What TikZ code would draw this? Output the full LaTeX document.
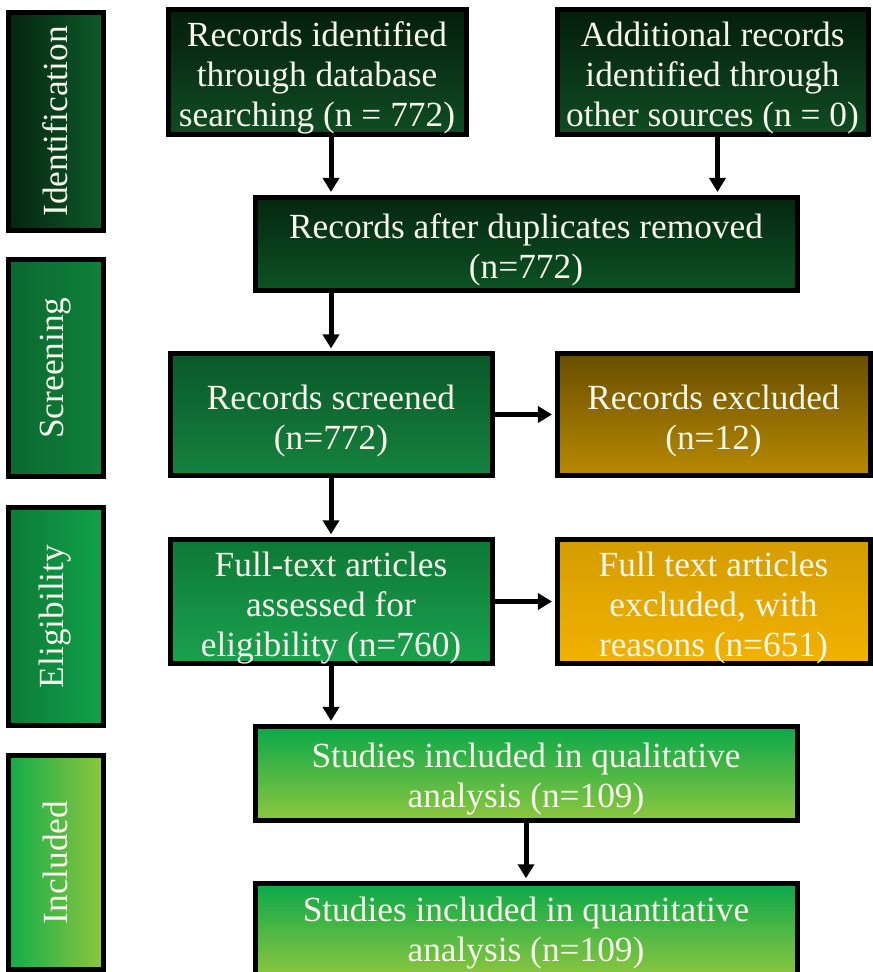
\documentclass[tikz,border=0pt]{standalone}
\usepackage{fontspec}
\setmainfont{Liberation Serif}
\usetikzlibrary{arrows.meta,calc}
\definecolor{txt}{HTML}{F6F6EA}
\newcommand\tstrut{\rule{0pt}{27.5pt}}
\newcommand\lstrut{\rule{0pt}{23pt}}
\begin{document}
\begin{tikzpicture}[x=0.75pt,y=-0.75pt,
  box/.style={draw=black, line width=3.75pt, align=center, text=txt,
    font=\fontsize{26.5}{30}\selectfont, inner sep=0pt},
  wide/.style={box, minimum width=406.5pt},
  half/.style={box, minimum width=241.5pt, minimum height=91.5pt},
  sidebox/.style={box, minimum width=71.25pt, minimum height=163pt},
  arr/.style={line width=3.75pt, shorten >=1.9pt, -{Triangle[width=12pt,length=10.5pt]}},
  darkg/.style={top color=HdarkT, bottom color=HdarkB},
]
\definecolor{HdarkT}{HTML}{041E0B}
\definecolor{HdarkB}{HTML}{0F4C23}
\useasboundingbox[fill=white] (0,0) rectangle (872,972);

% side boxes
\node[sidebox, left color={rgb,255:red,4;green,36;blue,14}, right color={rgb,255:red,14;green,90;blue,42}] (sid) at (55.5,121.5) {\rotatebox{90}{Identification}};
\node[sidebox, left color={rgb,255:red,10;green,104;blue,46}, right color={rgb,255:red,16;green,128;blue,62}] (sscr) at (55.5,368) {\rotatebox{90}{Screening}};
\node[sidebox, minimum height=164pt, left color={rgb,255:red,12;green,122;blue,54}, right color={rgb,255:red,16;green,162;blue,74}] (sel) at (55.5,616.5) {\rotatebox{90}{Eligibility}};
\node[sidebox, minimum height=161pt, left color={rgb,255:red,16;green,172;blue,74}, middle color={rgb,255:red,24;green,176;blue,74}, right color={rgb,255:red,142;green,198;blue,63}] (sinc) at (55.5,862.5) {\rotatebox{90}{Included}};

% identification
\node[box, darkg, minimum width=223.5pt, minimum height=90pt] (b1) at (317,72)
  {\tstrut Records identified\\through database\\searching (n = 772)};
\node[box, darkg, minimum width=233.25pt, minimum height=90pt] (b2) at (712.5,72)
  {\tstrut Additional records\\identified through\\other sources (n = 0)};
\node[wide, minimum height=69.75pt, top color={rgb,255:red,5;green,38;blue,16}, bottom color={rgb,255:red,12;green,82;blue,36}] (b3) at (526,243.5)
  {\tstrut Records after duplicates removed\\(n=772)};

% screening
\node[half, top color={rgb,255:red,10;green,88;blue,40}, bottom color={rgb,255:red,22;green,130;blue,64}] (b4) at (331,414.5)
  {\tstrut Records screened\\(n=772)};
\node[half, minimum width=234.75pt, top color={rgb,255:red,104;green,78;blue,0}, bottom color={rgb,255:red,184;green,138;blue,0}] (b5) at (713.5,414.5)
  {\tstrut Records excluded\\(n=12)};

% eligibility
\node[half, top color={rgb,255:red,14;green,120;blue,54}, bottom color={rgb,255:red,26;green,162;blue,78}] (b6) at (331,601.5)
  {\tstrut Full-text articles\\assessed for\\eligibility (n=760)};
\node[half, minimum width=234.75pt, top color={rgb,255:red,212;green,156;blue,0}, middle color={rgb,255:red,255;green,192;blue,0}, bottom color={rgb,255:red,242;green,178;blue,0}] (b7) at (713.5,601.5)
  {\tstrut Full text articles\\excluded, with\\reasons (n=651)};

% included
\node[wide, minimum height=70.5pt, top color={rgb,255:red,10;green,168;blue,74}, bottom color={rgb,255:red,141;green,198;blue,63}] (b8) at (526,773)
  {\tstrut Studies included in qualitative\\analysis (n=109)};
\node[wide, minimum height=70pt, top color={rgb,255:red,10;green,168;blue,74}, bottom color={rgb,255:red,141;green,198;blue,63}] (b9) at (526,930)
  {\lstrut Studies included in quantitative\\analysis (n=109)};

% connectors
\draw[arr] (b1.south -| b4.north) -- (b3.north -| b4.north);
\draw[arr] ($(b2.south)+(5,0)$) -- ($(b3.north -| b2.south)+(5,0)$);
\draw[arr] (b3.south -| b4.north) -- (b4.north);
\draw[arr] (b4.east) -- (b5.west);
\draw[arr] (b4.south) -- (b6.north);
\draw[arr] (b6.east) -- (b7.west);
\draw[arr] (b6.south) -- (b8.north -| b6.south);
\draw[arr] (b8.south) -- (b9.north);
\end{tikzpicture}
\end{document}
